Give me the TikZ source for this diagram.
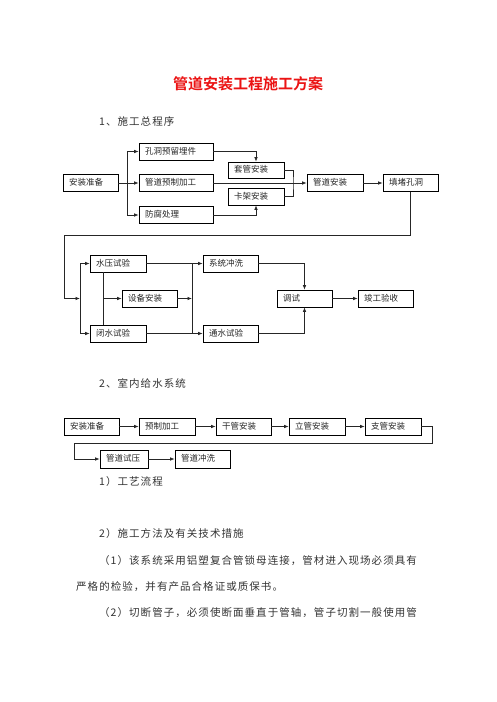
\documentclass[tikz,border=0pt]{standalone}
\usepackage{fontspec}
\usetikzlibrary{arrows.meta}
\newfontfamily\cjk{Noto Sans CJK SC}
\newfontfamily\cjkbody[LetterSpace=10]{Noto Sans CJK SC}
\newfontfamily\cjktitle{Noto Sans CJK SC Bold}
\definecolor{titlered}{RGB}{235,20,20}
\tikzset{
  bx/.style={draw, line width=0.7pt, rectangle, inner xsep=6pt, inner ysep=0pt,
    minimum height=17pt, text height=7pt, text depth=1.5pt, align=left,
    font=\cjk\fontsize{8.5}{10}\selectfont, text=black!85},
  ln/.style={line width=0.7pt, black!85},
  arr/.style={ln, -{Latex[length=4.5pt,width=3.5pt]}},
  bodytxt/.style={anchor=west, inner sep=0pt, font=\cjkbody\fontsize{10.5}{12}\selectfont, text=black!80}
}
\begin{document}
\begin{tikzpicture}[x=1pt,y=-1pt]
\fill[white] (0,0) rectangle (496,702);
\useasboundingbox (0,0) rectangle (496,702);

% title
\node[font=\cjktitle\fontsize{15}{17}\selectfont, text=titlered, inner sep=0pt] (title) at (248,84) {管道安装工程施工方案};
\node[bodytxt] (h1) at (99,121) {1、施工总程序};

% chart 1 upper
\node[bx, text width=43pt] (a1) at (90.5,183) {安装准备};
\node[bx, text width=62pt] (a2) at (176,151.5) {孔洞预留埋件};
\node[bx, text width=62pt] (a3) at (176,183) {管道预制加工};
\node[bx, text width=62pt] (a4) at (176,215) {防腐处理};
\node[bx, text width=44pt, minimum height=16pt] (a5) at (256,170) {套管安装};
\node[bx, text width=44pt] (a6) at (256,196.5) {卡架安装};
\node[bx, text width=44pt] (a7) at (335,183) {管道安装};
\node[bx, text width=43pt] (a8) at (410.5,183) {填堵孔洞};

\coordinate (s1) at (127,183);
\draw[arr] (a1.east) -- (a3.west);
\draw[arr] (s1) |- (a2.west);
\draw[arr] (s1) |- (a4.west);
\draw[arr] (a2.east) -| (a5.north);
\draw[arr] (a4.east) -| (a6.south);
\coordinate (br) at (293,183);
\draw[ln] (a5.east) -| (br) |- (a6.east);
\draw[arr] (a3.east) -- (a7.west);
\draw[arr] (a7.east) -- (a8.west);

% loop down
\coordinate (k1) at (410.5,235);
\coordinate (k2) at (64,235);
\coordinate (k3) at (64,298.5);
\coordinate (j1) at (80,298.5);
\draw[arr] (a8.south) -- (k1) -- (k2) -- (k3) -- (j1);

% chart 1 lower
\node[bx, text width=44pt] (b1) at (118,263.5) {水压试验};
\node[bx, text width=44pt] (b2) at (118,333.5) {闭水试验};
\node[bx, text width=43pt] (b3) at (149.5,298.5) {设备安装};
\node[bx, text width=43pt] (b4) at (230.5,263.5) {系统冲洗};
\node[bx, text width=43pt] (b5) at (230.5,333.5) {通水试验};
\node[bx, text width=43pt] (b6) at (304.5,298.5) {调试};
\node[bx, text width=43pt] (b7) at (385.5,298.5) {竣工验收};

\coordinate (v1) at (80,263.5);
\coordinate (v2) at (80,333.5);
\draw[ln] (v1) -- (v2);
\draw[arr] (v1) -- (b1.west);
\draw[arr] (v2) -- (b2.west);
\draw[ln] ([xshift=-15pt]b1.south) -- ([xshift=-15pt]b2.north);
\coordinate (m2) at (103,298.5);
\draw[arr] (m2) -- (b3.west);
\coordinate (r1) at (192,263.5);
\coordinate (r2) at (192,333.5);
\coordinate (r3) at (192,298.5);
\draw[ln] (r1) -- (r2);
\draw[arr] (b1.east) -- (b4.west);
\draw[arr] (b2.east) -- (b5.west);
\draw[arr] (b3.east) -- (r3);
\draw[arr] (b4.east) -| (b6.north);
\draw[arr] (b5.east) -| (b6.south);
\draw[arr] (b6.east) -- (b7.west);

% section 2
\node[bodytxt] (h2) at (99,383) {2、室内给水系统};
\node[bx, text width=43pt] (c1) at (91.5,426.5) {安装准备};
\node[bx, text width=44pt] (c2) at (167,426.5) {预制加工};
\node[bx, text width=43pt] (c3) at (243.5,426.5) {干管安装};
\node[bx, text width=44pt] (c4) at (317,426.5) {立管安装};
\node[bx, text width=44pt] (c5) at (393,426.5) {支管安装};
\node[bx, text width=36pt, minimum height=18pt] (c6) at (124,459) {管道试压};
\node[bx, text width=43pt, minimum height=18pt] (c7) at (202.5,459) {管道冲洗};
\draw[arr] (c1.east) -- (c2.west);
\draw[arr] (c2.east) -- (c3.west);
\draw[arr] (c3.east) -- (c4.west);
\draw[arr] (c4.east) -- (c5.west);
\coordinate (t1) at (432,426.5);
\coordinate (t2) at (432,443);
\coordinate (t3) at (74,443);
\draw[arr] (c5.east) -- (t1) -- (t2) -- (t3) |- (c6.west);
\draw[arr] (c6.east) -- (c7.west);

% body text
\node[bodytxt] (p1) at (99,482) {1）工艺流程};
\node[bodytxt] (p2) at (99,534) {2）施工方法及有关技术措施};
\node[bodytxt] (p3) at (99,561) {（1）该系统采用铝塑复合管锁母连接，管材进入现场必须具有};
\node[bodytxt] (p4) at (76,587) {严格的检验，并有产品合格证或质保书。};
\node[bodytxt] (p5) at (99,613) {（2）切断管子，必须使断面垂直于管轴，管子切割一般使用管};
\end{tikzpicture}
\end{document}
